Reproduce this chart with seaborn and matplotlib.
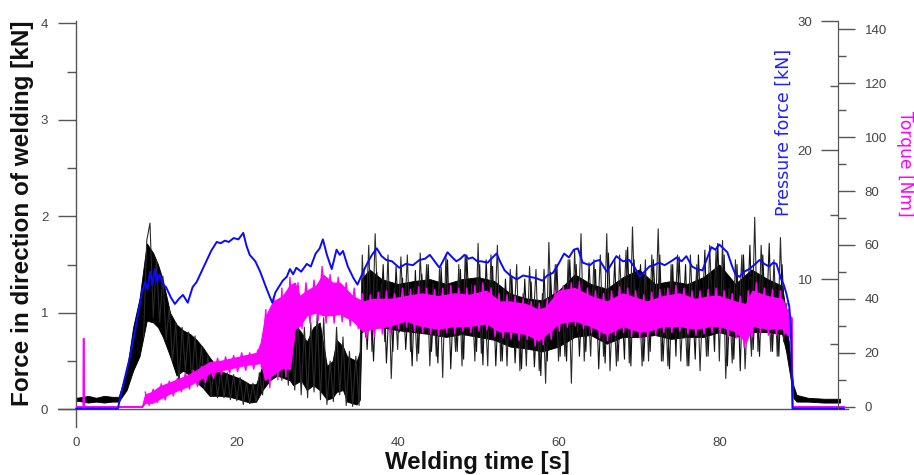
import numpy as np
import pandas as pd
import matplotlib
matplotlib.use("Agg")
import matplotlib.pyplot as plt
import seaborn as sns
from matplotlib.ticker import FixedLocator

sns.set_style("white")
plt.rcParams['font.family'] = ['Liberation Sans', 'DejaVu Sans']

# ---------------- data ----------------
# Force in direction of welding [kN] - dense core band
core_t = [0, 0.9, 1.5, 2.5, 3.5, 4.5, 5.3,
          6.3, 7.1, 7.9, 8.8, 9.6, 10.2, 10.8, 11.7, 12.5, 13.3,
          14.2, 15.0, 15.8, 16.6, 17.9, 19.1, 20.4, 21.6, 22.4, 23.2,
          24.1, 25.0, 26.6, 27.0, 28.0, 28.7, 29.5, 30.3, 31.2, 31.9,
          32.4, 33.2, 33.7, 34.9, 35.3, 35.5, 36.5, 38, 40, 42,
          44, 46, 48, 50, 52, 54, 56, 58, 60, 62,
          64, 66, 68, 70, 72, 74, 76, 78, 80, 82,
          84, 86, 87.8, 88.3, 88.8, 89.2, 89.6, 91, 93, 95]
core_lo = [0.09, 0.08, 0.07, 0.08, 0.07, 0.08, 0.08,
           0.2, 0.4, 0.55, 0.92, 0.9, 0.85, 0.75, 0.55, 0.35, 0.4,
           0.35, 0.28, 0.22, 0.14, 0.14, 0.13, 0.10, 0.07, 0.08, 0.2,
           0.3, 0.35, 0.3, 0.25, 0.3, 0.2, 0.25, 0.2, 0.1, 0.12,
           0.18, 0.2, 0.08, 0.05, 0.1, 0.8, 0.85, 0.85, 0.82, 0.8,
           0.78, 0.75, 0.78, 0.75, 0.72, 0.65, 0.63, 0.6, 0.65, 0.75,
           0.77, 0.68, 0.75, 0.75, 0.77, 0.73, 0.75, 0.75, 0.8, 0.75,
           0.8, 0.8, 0.78, 0.6, 0.35, 0.12, 0.08, 0.08, 0.07, 0.07]
core_hi = [0.12, 0.13, 0.14, 0.12, 0.14, 0.13, 0.13,
           0.4, 0.85, 1.15, 1.72, 1.62, 1.5, 1.34, 1.0, 0.88, 0.82,
           0.78, 0.72, 0.64, 0.54, 0.4, 0.36, 0.32, 0.26, 0.26, 0.46,
           0.6, 0.95, 1.0, 0.9, 0.8, 0.7, 0.85, 0.9, 0.45, 0.5,
           0.72, 0.65, 0.55, 0.5, 0.6, 1.35, 1.45, 1.35, 1.3, 1.33,
           1.35, 1.3, 1.35, 1.37, 1.33, 1.2, 1.15, 1.13, 1.23, 1.4,
           1.3, 1.25, 1.37, 1.45, 1.3, 1.33, 1.3, 1.37, 1.5, 1.3,
           1.45, 1.35, 1.28, 1.0, 0.55, 0.25, 0.15, 0.12, 0.11, 0.11]

# Force in direction of welding [kN] - large spikes (every 0.4 s, 8.4 .. 88.4 s)
spike_t = np.linspace(8.4, 88.4, 201)
spike_v = [0.75, 1.75, 1.93, 0.95, 1.55, 0.9, 1.38, 0.72, 1.05, 0.5,
           0.9, 0.25, 0.85, 0.4, 0.8, 0.3, 0.76, 0.28, 0.66, 0.2,
           0.56, 0.14, 0.45, 0.12, 0.4, 0.12, 0.38, 0.1, 0.36, 0.09,
           0.33, 0.05, 0.28, 0.06, 0.27, 0.07, 0.38, 0.15, 0.55, 0.3,
           0.8, 0.35, 0.9, 0.3, 1.0, 0.25, 1.02, 0.2, 0.95, 0.15,
           0.85, 0.12, 0.9, 0.18, 1.0, 0.1, 0.95, 0.05, 0.5, 0.08,
           0.85, 0.15, 0.75, 0.04, 0.6, 0.03, 0.55, 0.04, 1.6, 0.75,
           1.7, 0.6, 1.82, 0.85, 1.3, 0.7, 1.6, 0.32, 1.25, 0.62,
           1.58, 0.8, 1.6, 0.6, 1.25, 0.5, 1.62, 0.82, 1.5, 0.45,
           1.3, 0.55, 1.45, 0.33, 1.6, 0.8, 1.2, 0.6, 1.5, 0.45,
           1.6, 0.85, 1.3, 0.5, 1.72, 0.58, 1.2, 0.45, 1.6, 0.8,
           1.7, 0.5, 1.25, 0.45, 1.45, 0.8, 1.5, 0.4, 1.2, 0.45,
           1.48, 0.8, 1.45, 0.4, 1.2, 0.27, 1.73, 0.75, 1.5, 0.5,
           1.25, 0.55, 1.55, 0.27, 1.65, 0.8, 1.82, 0.5, 1.25, 0.55,
           1.55, 0.8, 1.6, 0.55, 1.82, 0.4, 1.2, 0.45, 1.6, 0.85,
           1.65, 0.48, 1.89, 0.8, 1.25, 0.45, 1.55, 0.5, 1.6, 0.82,
           1.87, 0.5, 1.25, 0.45, 1.5, 0.8, 1.6, 0.5, 1.2, 0.45,
           1.6, 0.8, 1.5, 0.4, 1.25, 0.55, 1.7, 0.8, 1.65, 0.5,
           1.75, 0.32, 1.25, 0.48, 1.55, 0.82, 1.6, 0.42, 1.2, 0.55,
           1.99, 0.6, 1.7, 0.85, 1.3, 0.6, 1.55, 0.55, 1.78, 0.7,
           1.1]

# Force in direction of welding [kN] - medium spikes in the plateau (every 0.4 s, 35.8 .. 88.2 s)
spike2_t = np.linspace(35.8, 88.2, 132)
spike2_v = [1.45, 0.62, 1.25, 0.5, 1.42, 0.85, 1.5, 0.48, 1.2, 0.6,
            1.48, 0.8, 1.36, 0.62, 1.2, 0.45, 1.44, 0.58, 1.4, 0.82,
            1.5, 0.6, 1.2, 0.48, 1.47, 0.8, 1.55, 0.42, 1.25, 0.6,
            1.45, 0.52, 1.6, 0.8, 1.2, 0.6, 1.5, 0.46, 1.55, 0.8,
            1.48, 0.45, 1.2, 0.5, 1.35, 0.75, 1.38, 0.48, 1.15, 0.42,
            1.35, 0.7, 1.32, 0.44, 1.1, 0.35, 1.45, 0.5, 1.42, 0.75,
            1.5, 0.55, 1.25, 0.5, 1.55, 0.8, 1.5, 0.55, 1.25, 0.6,
            1.52, 0.8, 1.45, 0.42, 1.25, 0.48, 1.62, 0.8, 1.55, 0.5,
            1.25, 0.52, 1.68, 0.45, 1.55, 0.8, 1.5, 0.5, 1.25, 0.6,
            1.55, 0.8, 1.6, 0.5, 1.2, 0.42, 1.5, 0.55, 1.58, 0.8,
            1.5, 0.45, 1.25, 0.52, 1.6, 0.8, 1.65, 0.55, 1.3, 0.6,
            1.72, 0.8, 1.6, 0.45, 1.3, 0.52, 1.5, 0.4, 1.6, 0.8,
            1.7, 0.62, 1.3, 0.55, 1.6, 0.8, 1.72, 0.6, 1.3, 0.55,
            1.5, 0.8]

# Torque [Nm] - band
tq_t = [0, 0.82, 0.85, 0.95, 0.98,
        8.2, 8.6, 9.5, 10.4, 11.7, 12.5, 13.8, 15.0, 16.6, 18.0,
        19.5, 21.0, 22.5, 23.0, 23.5, 24.5, 25.7, 26.6, 27.2, 27.8,
        28.7, 29.9, 30.7, 31.9, 32.8, 34.4, 35.7, 36.9, 39, 41,
        43, 45, 47, 49, 51, 52.7, 54, 56, 57.5, 58.5,
        60, 62, 64, 66, 68, 70, 71, 73, 75, 77,
        79, 80, 82, 83.3, 84.1, 86, 87.8, 88.7, 89.0, 89.05,
        95.5]
tq_lo = [0, 0, 0, 0, 0,
         0, 1.5, 1.5, 3, 5, 6, 7.5, 9.5, 12.5, 13.5,
         14.5, 15.5, 16, 16.5, 10, 12, 14.5, 14, 29, 30,
         34, 35, 34, 34, 34.5, 32, 28, 29, 30, 32,
         30, 29, 30, 30, 31, 28, 28, 27, 24.7, 27,
         31, 32, 30, 27, 30, 28, 28, 30, 30, 29,
         30, 30, 28, 24, 30, 29, 29, 26, 25, 0,
         0]
tq_hi = [0, 0, 25.4, 25.4, 0,
         0, 4.5, 5.5, 7.5, 9, 10, 11.5, 13.5, 16.5, 17,
         18, 19, 20, 24, 33, 39, 41, 45, 46, 41,
         43, 45, 49, 46, 46, 41, 39, 40, 40, 41,
         42, 41, 42, 41.5, 43, 39, 39, 38, 36, 37,
         43, 44, 41, 39, 42, 40, 39, 41, 42, 40,
         41, 41, 39, 38, 43, 41, 40, 34, 33, 0,
         0]

# Torque [Nm] - ragged edges (every 0.5 s, 8.6 .. 88.6 s)
tq_edge_t = np.linspace(8.6, 88.6, 161)
tq_edge_v = [5.5, 0.5, 6.5, 1.5, 8.5, 2.5, 9.5, 4, 10.5, 5.5,
             12.5, 6.5, 13.5, 7.5, 15, 9, 16, 10.5, 18, 12,
             18.5, 12.5, 19, 13, 20, 13.5, 20, 14, 21, 14.5,
             36, 7, 41, 10, 44, 11, 48, 24, 46, 29,
             46, 31, 47, 32, 52, 31, 49, 31, 48, 31.5,
             46, 30, 44, 29, 42, 25.5, 41.5, 26, 42.5, 27,
             43, 27.5, 42, 29, 44, 29.5, 43.5, 28, 44.5, 27.5,
             44, 27, 43.5, 26.5, 44, 27.5, 45, 27, 44, 28,
             44, 27.5, 45, 28, 46, 28.5, 44, 26, 42, 25.5,
             41.5, 25, 41, 24.5, 40, 25, 39, 22.5, 38.5, 23,
             40, 25, 43, 28, 45, 29.5, 46, 30, 46.5, 29,
             44, 27.5, 43, 25.5, 42, 24.5, 43, 26.5, 44.5, 27.5,
             44, 26, 43, 25.5, 41.5, 25.5, 42.5, 26.5, 43.5, 27.5,
             44, 27.5, 45, 28, 44, 27, 43, 26.5, 43, 27,
             43.5, 27.5, 44, 27.5, 43, 26, 42, 25.5, 41, 22,
             43, 26, 46, 27.5, 44, 26.5, 43.5, 26.5, 43, 27,
             36]

# Pressure force [kN]
p_t = [0, 5.2, 6.0, 6.7, 7.4, 8.2, 8.6, 8.9, 9.2, 9.5, 9.8, 10.1, 10.4, 10.8,
       11.2, 11.8, 12.3, 12.8, 13.3, 13.9, 14.5, 15.0, 15.6, 16.2, 16.8, 17.5,
       18.0, 18.5, 19.0, 19.6, 20.2, 20.8, 21.2, 21.6, 22.3, 22.9, 23.5, 24.0,
       24.4, 24.8, 25.2, 25.7, 26.2, 26.6, 27.0, 27.4, 28.0, 28.7, 29.2, 29.8,
       30.3, 30.7, 31.2, 31.8, 32.4, 32.8, 33.2, 33.8, 34.5, 35.0, 35.5, 36.1,
       36.8, 37.4, 38.0, 38.6, 39.3, 40.2, 41.0, 41.9, 42.7, 43.4, 44.0, 44.6,
       45.2, 45.7, 46.2, 46.8, 47.3, 47.8, 48.3, 48.8, 49.3, 49.9, 50.4, 51.2,
       51.8, 52.3, 52.8, 53.3, 54.0, 54.8, 55.6, 56.4, 57.2, 58.0, 58.6, 59.3,
       60.0, 60.7, 61.3, 61.9, 62.4, 63.0, 63.9, 64.5, 65.1, 65.6, 66.0, 66.6,
       67.2, 68.0, 68.8, 69.5, 70.1, 70.7, 71.3, 71.9, 72.5, 73.2, 74.0, 74.7,
       75.3, 75.9, 76.6, 77.2, 77.9, 78.4, 79.0, 79.5, 80.0, 80.5, 81.0, 81.6,
       82.0, 82.5, 83.1, 83.7, 84.3, 85.0, 85.6, 86.2, 86.7, 87.1, 87.4, 87.7,
       88.0, 88.3, 88.7, 88.9, 89.1, 95.5]
p_v = [0, 0, 2.2, 4.0, 6.2, 9.0, 9.8, 9.2, 10.6, 9.6, 10.8, 9.8, 10.4, 9.6,
       9.4, 8.6, 8.1, 8.5, 8.8, 8.2, 9.4, 9.8, 10.6, 11.4, 12.2, 12.9,
       12.8, 13.0, 12.9, 13.2, 13.1, 13.6, 12.6, 11.9, 11.4, 10.6, 9.6, 8.8,
       8.2, 9.0, 9.4, 9.9, 10.2, 10.8, 10.4, 10.9, 10.6, 11.2, 11.0, 12.0,
       12.4, 13.1, 11.9, 10.8, 12.3, 11.9, 12.2, 11.0, 10.1, 9.6, 10.3, 11.1,
       11.9, 12.4, 11.8, 11.5, 11.4, 10.9, 11.2, 11.1, 11.5, 11.6, 11.9, 11.4,
       10.9, 11.5, 12.1, 11.7, 11.4, 11.6, 11.9, 11.6, 11.7, 11.4, 11.4, 11.3,
       11.7, 12.0, 11.3, 10.7, 10.3, 10.0, 10.3, 10.2, 10.1, 9.9, 10.3, 10.5,
       11.2, 12.0, 11.7, 12.3, 12.4, 11.3, 11.1, 11.4, 11.5, 11.0, 10.6, 11.2,
       11.8, 11.4, 11.5, 10.9, 10.2, 10.6, 11.0, 11.1, 11.3, 11.1, 11.4, 11.7,
       11.4, 11.8, 11.0, 10.8, 10.7, 11.5, 12.5, 12.3, 12.7, 12.4, 12.1, 11.0,
       10.4, 10.2, 10.6, 10.8, 11.1, 11.5, 11.2, 11.0, 11.3, 11.2, 10.6, 10.0,
       9.6, 9.0, 7.9, 6.3, 0, 0]

x_ticks = [0, 20, 40, 60, 80]
force_ticks = [0, 1, 2, 3, 4]
pressure_ticks = [10, 20, 30]
torque_ticks = [0, 20, 40, 60, 80, 100, 120, 140]

# ---------------- figure ----------------
W, H = 914, 475
fig = plt.figure(figsize=(W / 100, H / 100), dpi=100)
ax = fig.add_axes([58 / W, (H - 427) / H, 790 / W, 406 / H])
ax_t = ax.twinx()
ax_p = ax.twinx()

axis_col = '#555555'
lab_col = '#444444'
black = '#000000'
magenta = '#ff00ff'
blue = '#0a0aff'

# black force signal
ax.fill_between(core_t, core_lo, core_hi, color=black, lw=0.6)
sns.lineplot(x=spike_t, y=spike_v, ax=ax, color='#2a2a2a', lw=0.8,
             estimator=None, sort=False)
sns.lineplot(x=spike2_t, y=spike2_v, ax=ax, color='#111111', lw=0.8,
             estimator=None, sort=False)

# torque
ax_t.fill_between(tq_t, tq_lo, tq_hi, facecolor=magenta, edgecolor=magenta, lw=1.0)
sns.lineplot(x=tq_edge_t, y=tq_edge_v, ax=ax_t, color=magenta, lw=1.0,
             estimator=None, sort=False)

# pressure
sns.lineplot(x=p_t, y=p_v, ax=ax_p, color=blue, lw=1.4, estimator=None, sort=False)

# ---- main axes ----
ax.set_xlim(-2.24, 96.0)
ax.set_ylim(-0.183, 4.024)
ax.set_xlabel('')
ax.set_ylabel('')
ax.spines['left'].set_position(('data', 0))
ax.spines['bottom'].set_position(('data', 0))
ax.spines['top'].set_visible(False)
ax.spines['right'].set_visible(False)
for s in ['left', 'bottom']:
    ax.spines[s].set_color(axis_col)
    ax.spines[s].set_linewidth(1.0)
ax.xaxis.set_major_locator(FixedLocator(x_ticks))
ax.xaxis.set_minor_locator(FixedLocator([10, 30, 50, 70, 90]))
ax.yaxis.set_major_locator(FixedLocator(force_ticks))
ax.yaxis.set_minor_locator(FixedLocator([0.5, 1.5, 2.5, 3.5]))
ax.tick_params(axis='both', which='major', direction='out', length=13, width=1.0,
               color=axis_col, labelcolor=lab_col, labelsize=9.5)
ax.tick_params(axis='both', which='minor', direction='out', length=6.5, width=1.0,
               color=axis_col)
ax.tick_params(axis='x', which='major', pad=7)
ax.tick_params(axis='y', which='major', pad=7)
ax.grid(False)

# ---- pressure axis (ticks/labels on the left of the right-hand line) ----
ax_p.set_ylim(-1.423, 30)
ax_p.set_ylabel('')
for s in ['top', 'right', 'bottom']:
    ax_p.spines[s].set_visible(False)
ax_p.spines['left'].set_visible(True)
ax_p.spines['left'].set_position(('data', 94.73))
ax_p.spines['left'].set_bounds(0, 30)
ax_p.spines['left'].set_color(axis_col)
ax_p.yaxis.set_ticks_position('left')
ax_p.yaxis.set_label_position('left')
ax_p.yaxis.set_major_locator(FixedLocator(pressure_ticks))
ax_p.yaxis.set_minor_locator(FixedLocator([5, 15, 25]))
ax_p.tick_params(axis='y', which='major', direction='out', length=12.2, width=1.0,
                 color=axis_col, labelcolor=lab_col, labelsize=9.5, pad=6,
                 left=True, labelleft=True, right=False, labelright=False)
ax_p.tick_params(axis='y', which='minor', direction='out', length=6, width=1.0,
                 color=axis_col, left=True, right=False)
ax_p.grid(False)

# ---- torque axis (ticks/labels on the right) ----
ax_t.set_ylim(-7.53, 143.1)
ax_t.set_ylabel('')
for s in ['top', 'left', 'bottom']:
    ax_t.spines[s].set_visible(False)
ax_t.spines['right'].set_position(('data', 94.73))
ax_t.spines['right'].set_bounds(0, 143.1)
ax_t.spines['right'].set_color(axis_col)
ax_t.yaxis.set_major_locator(FixedLocator(torque_ticks))
ax_t.yaxis.set_minor_locator(FixedLocator([10, 30, 50, 70, 90, 110, 130]))
ax_t.tick_params(axis='y', which='major', direction='out', length=12.2, width=1.0,
                 color=axis_col, labelcolor=lab_col, labelsize=9.5, pad=7)
ax_t.tick_params(axis='y', which='minor', direction='out', length=6, width=1.0,
                 color=axis_col)
ax_t.grid(False)

# ---- axis titles ----
fig.text(23 / W, 1 - 213.5 / H, 'Force in direction of welding [kN]', rotation=90,
         ha='center', va='center', fontsize=17.5, fontweight='bold', color='#111111')
fig.text(477.5 / W, 1 - 463 / H, 'Welding time [s]', ha='center', va='center',
         fontsize=17.3, fontweight='bold', color='#111111')
fig.text(784 / W, 1 - 132.5 / H, 'Pressure force [kN]', rotation=90, ha='center',
         va='center', fontsize=12.5, color='#2020ff', family=['DejaVu Sans'])
fig.text(905 / W, 1 - 164 / H, 'Torque [Nm]', rotation=270, ha='center',
         va='center', fontsize=12.3, color=magenta, family=['DejaVu Sans'])

fig.savefig('out.png', dpi=100)
